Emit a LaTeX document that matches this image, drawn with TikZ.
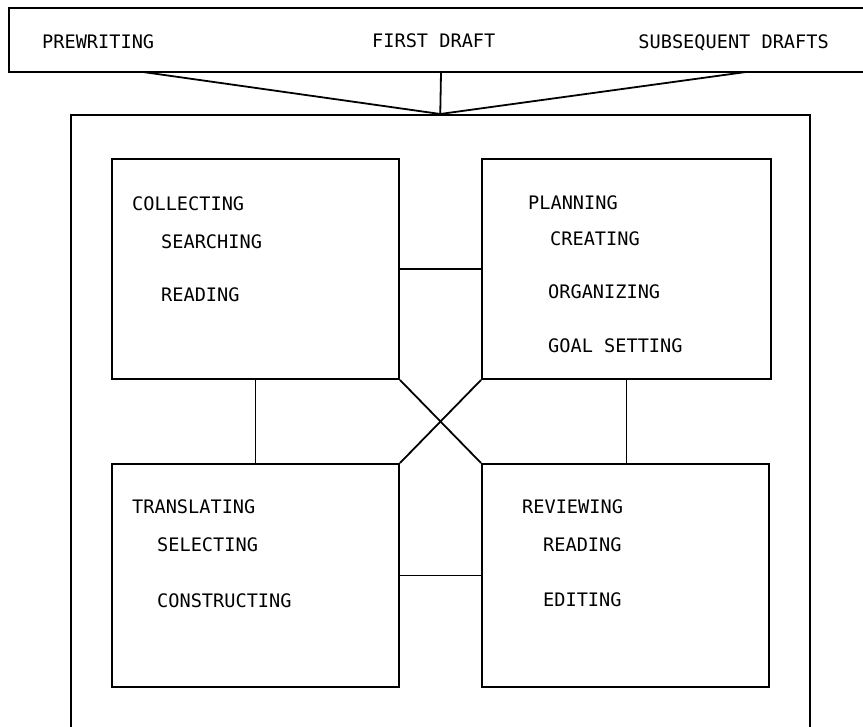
\documentclass[tikz,border=0pt]{standalone}
\usepackage{fontspec}
\setmonofont{DejaVu Sans Mono}
\begin{document}
\begin{tikzpicture}[x=1pt,y=-1pt,
  box/.style={draw,line width=2pt,inner sep=0pt},
  lbl/.style={anchor=base west,inner sep=0pt,font=\ttfamily\fontsize{18.6}{20}\selectfont},
  conn/.style={line width=1.8pt}]
\clip (0,0) rectangle (863,727);
\fill[white] (0,0) rectangle (863,727);
% top box (right edge off the page)
\node[box,minimum width=864,minimum height=64] (top) at (441,40) {};
% large frame (bottom edge off the page)
\node[box,minimum width=739.5,minimum height=650] (big) at (440.25,440) {};
% inner boxes
\node[box,minimum width=287,minimum height=220] (col) at (255.5,269) {};
\node[box,minimum width=289,minimum height=220] (pla) at (626.5,269) {};
\node[box,minimum width=287,minimum height=223] (tra) at (255.5,575.5) {};
\node[box,minimum width=287,minimum height=223] (rev) at (625.5,575.5) {};
% top labels
\node[lbl] (pw) at (42,49) {PREWRITING};
\node[lbl] (fd) at (372,48) {FIRST DRAFT};
\node[lbl,anchor=base east] (sd) at (829,49) {SUBSEQUENT DRAFTS};
% box labels
\node[lbl] (c0) at (132,211) {COLLECTING};
\node[lbl] (c1) at (161,249) {SEARCHING};
\node[lbl] (c2) at (161,302) {READING};
\node[lbl] (p0) at (528,210) {PLANNING};
\node[lbl] (p1) at (550,246) {CREATING};
\node[lbl] (p2) at (548,299) {ORGANIZING};
\node[lbl] (p3) at (548,353) {GOAL SETTING};
\node[lbl] (t0) at (132,514) {TRANSLATING};
\node[lbl] (t1) at (157,551) {SELECTING};
\node[lbl] (t2) at (157,607) {CONSTRUCTING};
\node[lbl] (r0) at (522,514) {REVIEWING};
\node[lbl] (r1) at (543,551) {READING};
\node[lbl] (r2) at (543,606) {EDITING};
% converging lines
\coordinate (tl) at (143,72);
\coordinate (tr) at (746,72);
\draw[conn] (tl) -- (big.north);
\draw[conn] (tr) -- (big.north);
\draw[conn] (top.south) -- (big.north);
% connectors among boxes
\draw[conn] (col.east) -- (pla.west);
\draw[conn] (tra.east) -- (rev.west);
\draw[conn] (col.south) -- (tra.north);
\draw[conn] (pla.south) -- (pla.south |- rev.north);
\draw[conn] (col.south east) -- (rev.north west);
\draw[conn] (pla.south west) -- (tra.north east);
\end{tikzpicture}
\end{document}
